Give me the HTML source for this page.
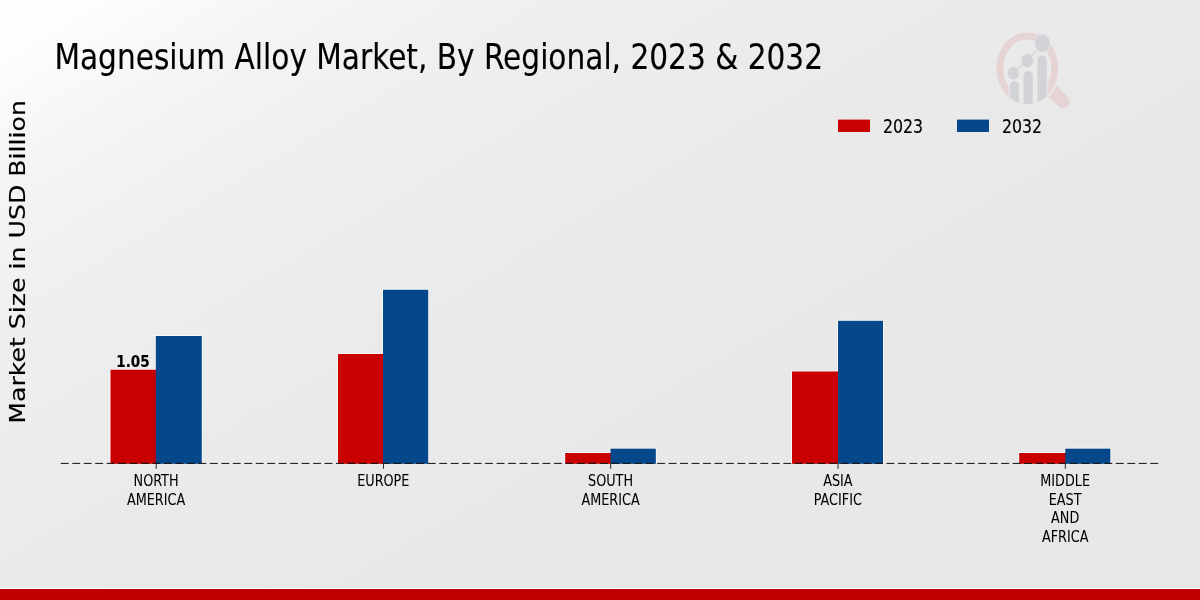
<!DOCTYPE html>
<html lang="en">
<head>
<meta charset="utf-8">
<title>Magnesium Alloy Market, By Regional, 2023 &amp; 2032</title>
<style>
html,body{margin:0;padding:0;background:#e8e8e8;}
body{width:1200px;height:600px;overflow:hidden;position:relative;font-family:"DejaVu Sans Condensed","DejaVu Sans","Liberation Sans",sans-serif;}
#chart{position:absolute;left:0;top:0;width:1200px;height:600px;display:block;}
text{font-family:"DejaVu Sans Condensed","DejaVu Sans","Liberation Sans",sans-serif;font-stretch:condensed;fill:#000;stroke:#000;stroke-width:0.15px;stroke-linejoin:round;}
.ylab{font-family:"DejaVu Sans","Liberation Sans",sans-serif;font-stretch:normal;}
.val{font-weight:bold;}
.tk{stroke-width:0.05px;}
</style>
</head>
<body>
<svg id="chart" width="1200" height="600" viewBox="0 0 1200 600">
<defs>
<linearGradient id="bg" gradientUnits="userSpaceOnUse" x1="0" y1="0" x2="617.0" y2="1048.8">
<stop offset="0.0000" stop-color="#ffffff"/>
<stop offset="0.0417" stop-color="#fdfdfd"/>
<stop offset="0.1250" stop-color="#f5f5f5"/>
<stop offset="0.2292" stop-color="#efefef"/>
<stop offset="0.3750" stop-color="#ebebeb"/>
<stop offset="0.5833" stop-color="#e8e8e8"/>
<stop offset="1.0000" stop-color="#e7e7e7"/>
</linearGradient>
<clipPath id="lens"><ellipse cx="1027.3" cy="68.3" rx="31" ry="35.9"/></clipPath>
</defs>
<rect x="0" y="0" width="1200" height="600" fill="url(#bg)"/>
<g id="logo">
<line x1="1049.5" y1="88.1" x2="1063.1" y2="101.7" stroke="#e6d3d4" stroke-width="13" stroke-linecap="round"/>
<ellipse cx="1027.3" cy="68.3" rx="31.9" ry="36.8" fill="none" stroke="#eaeaea" stroke-width="1.8"/>
<ellipse cx="1027.3" cy="68.3" rx="27.5" ry="32.4" fill="none" stroke="#e6d3d4" stroke-width="7"/>
<g clip-path="url(#lens)" fill="#d2d3d7" stroke="#e9e9ea" stroke-width="2.2" paint-order="stroke">
<rect x="1012" y="92" width="33" height="14" fill="#e9e9ea" stroke="none"/>
<rect x="1009.8" y="81" width="9.2" height="40" rx="4.6" ry="5"/>
<rect x="1023.6" y="71" width="9.2" height="50" rx="4.6" ry="5"/>
<rect x="1037.5" y="55.5" width="9.2" height="60" rx="4.6" ry="5"/>
</g>
<polyline points="1013.4,73.2 1027.3,60.8 1042.4,43.1" fill="none" stroke="#d2d3d7" stroke-width="1.2"/>
<g fill="#d2d3d7" stroke="#e7e7e9" stroke-width="1">
<ellipse cx="1013.4" cy="73.2" rx="5.8" ry="6.6"/>
<ellipse cx="1027.3" cy="60.8" rx="6.2" ry="7"/>
<ellipse cx="1042.4" cy="43.1" rx="7.8" ry="9.1"/>
</g>
</g>
<text transform="translate(54.4,69.0) scale(0.9146,1)" font-size="36">Magnesium Alloy Market, By Regional, 2023 &amp; 2032</text>
<text class="ylab" transform="translate(24.8,261.9) scale(0.875,1) rotate(-90)" font-size="25.2" text-anchor="middle">Market Size in USD Billion</text>
<rect x="838" y="119.6" width="32" height="12.4" fill="#c80000"/>
<text transform="translate(882.9,133) scale(0.895,1)" font-size="19.6">2023</text>
<rect x="957" y="119.6" width="32" height="12.4" fill="#04478a"/>
<text transform="translate(1001.9,133) scale(0.895,1)" font-size="19.6">2032</text>
<path d="M110.00,462.8 V369.25 H155.30 V335.50 H202.30 V462.8" fill="none" stroke="#f8fcfc" stroke-opacity="0.75" stroke-width="1"/><rect x="110.50" y="369.75" width="45.90" height="94.05" fill="#c80000"/><rect x="155.8" y="336.0" width="46.00" height="127.80" fill="#04478a"/>
<path d="M337.50,462.8 V353.50 H382.50 V289.30 H428.70 V462.8" fill="none" stroke="#f8fcfc" stroke-opacity="0.75" stroke-width="1"/><rect x="338.00" y="354.0" width="45.60" height="109.80" fill="#c80000"/><rect x="383.0" y="289.8" width="45.20" height="174.00" fill="#04478a"/>
<path d="M564.70,462.8 V452.50 H610.00 V448.17 H656.30 V462.8" fill="none" stroke="#f8fcfc" stroke-opacity="0.75" stroke-width="1"/><rect x="565.20" y="453.0" width="45.90" height="10.80" fill="#c80000"/><rect x="610.5" y="448.67" width="45.30" height="15.13" fill="#04478a"/>
<path d="M791.50,462.8 V371.00 H837.50 V320.30 H883.50 V462.8" fill="none" stroke="#f8fcfc" stroke-opacity="0.75" stroke-width="1"/><rect x="792.00" y="371.5" width="46.60" height="92.30" fill="#c80000"/><rect x="838.0" y="320.8" width="45.00" height="143.00" fill="#04478a"/>
<path d="M1018.70,462.8 V452.50 H1064.80 V448.17 H1110.80 V462.8" fill="none" stroke="#f8fcfc" stroke-opacity="0.75" stroke-width="1"/><rect x="1019.20" y="453.0" width="46.70" height="10.80" fill="#c80000"/><rect x="1065.3" y="448.67" width="45.00" height="15.13" fill="#04478a"/>
<line x1="60.8" y1="463.4" x2="1158.3" y2="463.4" stroke="#111" stroke-width="1" stroke-dasharray="7.9 3.568"/>
<line x1="156.20" y1="463.4" x2="156.20" y2="468.8" stroke="#111" stroke-width="0.9"/><line x1="383.45" y1="463.4" x2="383.45" y2="468.8" stroke="#111" stroke-width="0.9"/><line x1="610.70" y1="463.4" x2="610.70" y2="468.8" stroke="#111" stroke-width="0.9"/><line x1="838.00" y1="463.4" x2="838.00" y2="468.8" stroke="#111" stroke-width="0.9"/><line x1="1065.30" y1="463.4" x2="1065.30" y2="468.8" stroke="#111" stroke-width="0.9"/>
<text class="val" transform="translate(133,366.8) scale(0.94,1)" font-size="16" text-anchor="middle">1.05</text>
<text class="tk" transform="translate(156.05,486) scale(0.904,1)" font-size="15.75" text-anchor="middle">NORTH</text><text class="tk" transform="translate(156.05,505) scale(0.904,1)" font-size="15.75" text-anchor="middle">AMERICA</text>
<text class="tk" transform="translate(383.30,486) scale(0.904,1)" font-size="15.75" text-anchor="middle">EUROPE</text>
<text class="tk" transform="translate(610.55,486) scale(0.904,1)" font-size="15.75" text-anchor="middle">SOUTH</text><text class="tk" transform="translate(610.55,505) scale(0.904,1)" font-size="15.75" text-anchor="middle">AMERICA</text>
<text class="tk" transform="translate(837.85,486) scale(0.904,1)" font-size="15.75" text-anchor="middle">ASIA</text><text class="tk" transform="translate(837.85,505) scale(0.904,1)" font-size="15.75" text-anchor="middle">PACIFIC</text>
<text class="tk" transform="translate(1065.15,486) scale(0.904,1)" font-size="15.75" text-anchor="middle">MIDDLE</text><text class="tk" transform="translate(1065.15,505) scale(0.904,1)" font-size="15.75" text-anchor="middle">EAST</text><text class="tk" transform="translate(1065.15,523) scale(0.904,1)" font-size="15.75" text-anchor="middle">AND</text><text class="tk" transform="translate(1065.15,542) scale(0.904,1)" font-size="15.75" text-anchor="middle">AFRICA</text>
<rect x="0" y="588" width="1200" height="1" fill="#fafafa"/>
<rect x="0" y="589" width="1200" height="11" fill="#c00000"/>
</svg>
</body>
</html>
